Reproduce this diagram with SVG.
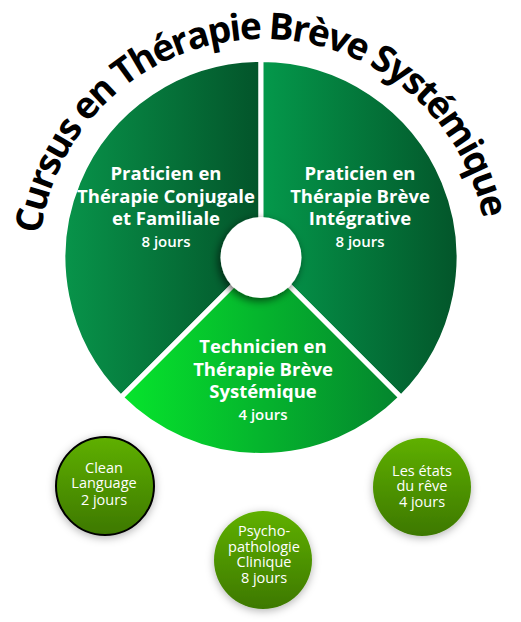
<svg xmlns="http://www.w3.org/2000/svg" xmlns:xlink="http://www.w3.org/1999/xlink" width="521" height="622" viewBox="0 0 521 622">
<defs>
<linearGradient id="gL" x1="0" y1="0" x2="1" y2="0"><stop offset="0" stop-color="#08944a"/><stop offset="1" stop-color="#03542a"/></linearGradient>
<linearGradient id="gR" x1="0" y1="0" x2="1" y2="0"><stop offset="0" stop-color="#04994b"/><stop offset="1" stop-color="#03552a"/></linearGradient>
<linearGradient id="gB" x1="0" y1="0" x2="1" y2="0"><stop offset="0" stop-color="#06e52c"/><stop offset="1" stop-color="#04842e"/></linearGradient>
<linearGradient id="gC" x1="0" y1="0" x2="0" y2="1"><stop offset="0" stop-color="#5fb000"/><stop offset="1" stop-color="#3d7800"/></linearGradient>
<filter id="sh" x="-50%" y="-50%" width="200%" height="200%"><feDropShadow dx="-2" dy="3" stdDeviation="4" flood-color="#000" flood-opacity="0.6"/></filter>
<filter id="glow" x="-30%" y="-30%" width="160%" height="160%"><feDropShadow dx="0" dy="2" stdDeviation="4" flood-color="#000" flood-opacity="0.3"/></filter>
<path id="arc" d="M38.64,269.8 A224.5,224.5 0 0 1 487.36,254.2"/>
<style>
.t{font-family:"Open Sans","Liberation Sans",sans-serif;fill:#fff;text-anchor:middle}
.b{font-weight:700;font-size:18.5px}
.d{font-weight:600;font-size:15px}
.s{font-size:14.5px}
.title{font-family:"Open Sans","Liberation Sans",sans-serif;font-weight:700;font-size:37px;fill:#000}
.sec{stroke:#fff;stroke-width:5;stroke-linejoin:miter}
.circ{fill:url(#gC);filter:url(#glow)}
</style>
</defs>
<rect width="521" height="622" fill="#fff"/>
<g id="title">
<text class="title"><textPath xlink:href="#arc" href="#arc" startOffset="50%" text-anchor="middle" textLength="631" lengthAdjust="spacing">Cursus en Thérapie Brève Systémique</textPath></text>
</g>
<g id="node-left">
<path class="sec" fill="url(#gL)" d="M261,257.5 L121,397.5 A198,198 0 0 1 261,59.5 Z"/>
<text class="t b" x="166" y="180">Praticien en</text>
<text class="t b" x="166" y="202.5">Thérapie Conjugale</text>
<text class="t b" x="166" y="225">et Familiale</text>
<text class="t d" x="166" y="247">8 jours</text>
</g>
<g id="node-right">
<path class="sec" fill="url(#gR)" d="M261,257.5 L261,59.5 A198,198 0 0 1 401,397.5 Z"/>
<text class="t b" x="360" y="180">Praticien en</text>
<text class="t b" x="360" y="202.5">Thérapie Brève</text>
<text class="t b" x="360" y="225">Intégrative</text>
<text class="t d" x="360" y="247">8 jours</text>
</g>
<g id="node-bottom">
<path class="sec" fill="url(#gB)" d="M261,257.5 L401,397.5 A198,198 0 0 1 121,397.5 Z"/>
<text class="t b" x="263" y="353">Technicien en</text>
<text class="t b" x="263" y="375.5">Thérapie Brève</text>
<text class="t b" x="263" y="397.5">Systémique</text>
<text class="t d" x="263" y="420">4 jours</text>
</g>
<g id="hub">
<circle cx="261" cy="257.5" r="40.5" fill="#fff" filter="url(#sh)"/>
</g>
<g id="node-clean">
<circle class="circ" cx="105" cy="486" r="49" stroke="#000" stroke-width="2"/>
<text class="t s" x="104" y="473">Clean</text>
<text class="t s" x="104" y="488">Language</text>
<text class="t s" x="104" y="505">2 jours</text>
</g>
<g id="node-psycho">
<circle class="circ" cx="263" cy="560" r="49"/>
<text class="t s" x="264" y="536">Psycho-</text>
<text class="t s" x="264" y="552">pathologie</text>
<text class="t s" x="264" y="567">Clinique</text>
<text class="t s" x="264" y="583">8 jours</text>
</g>
<g id="node-reve">
<circle class="circ" cx="422" cy="487" r="49"/>
<text class="t s" x="422" y="476">Les états</text>
<text class="t s" x="422" y="491">du rêve</text>
<text class="t s" x="422" y="507">4 jours</text>
</g>
<g id="connectors"/>
</svg>
